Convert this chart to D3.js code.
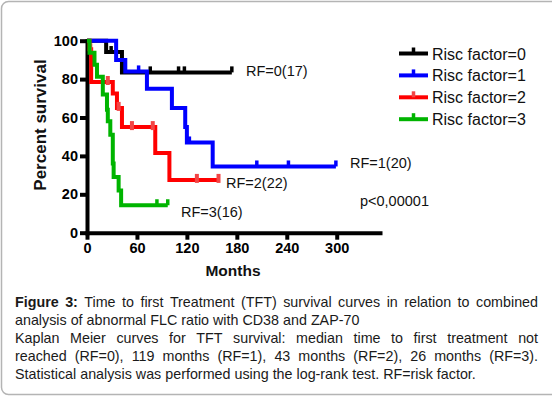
<!DOCTYPE html>
<html>
<head>
<meta charset="utf-8">
<script src="https://cdn.jsdelivr.net/npm/d3@7"></script>
<style>
  body { margin: 0; background: #fff; }
  svg { display: block; font-family: Arial, "Liberation Sans", sans-serif; }
</style>
</head>
<body>
<svg id="chart" width="552" height="398"></svg>
<script>
// values
const xTicks = [0, 60, 120, 180, 240, 300];
const yTicks = [0, 20, 40, 60, 80, 100];
const legendNames = ["Risc factor=0", "Risc factor=1", "Risc factor=2", "Risc factor=3"];
const groupLabels = ["RF=0(17)", "RF=1(20)", "RF=2(22)", "RF=3(16)"];

// months where the curve steps, and survival (%) after that step
const rf0Months = [0, 23, 42, 174];
const rf0Surv = [100, 94.1, 83.5, 83.5];
const rf0Censor = [29, 76, 110, 117, 174];

const rf1Months = [0, 35, 46, 72, 102, 118, 120, 151, 299];
const rf1Surv = [100, 90, 84, 75, 65, 55, 47, 34.5, 34.5];
const rf1Censor = [62, 123, 204, 242, 299];

const rf2Months = [0, 3, 5, 31, 36, 42, 82, 99, 158];
const rf2Surv = [100, 95.5, 78.5, 72.5, 65, 55, 41.5, 27.5, 27.5];
const rf2Censor = [4, 25, 38, 54, 79, 132, 158];

const rf3Months = [0, 3, 9, 12, 19, 24, 25, 28, 31, 32, 38, 41, 97];
const rf3Surv = [100, 93.75, 87.5, 81.25, 72, 64, 58, 51, 36, 29, 22, 14.3, 14.3];
const rf3Censor = [84, 97];

const pValue = "p<0,00001";

const caption = [
  [["Figure 3:", true], ["Time to first Treatment (TFT) survival curves in relation to combined", false], true],
  [["analysis of abnormal FLC ratio with CD38 and ZAP-70", false], false],
  [["Kaplan Meier curves for TFT survival: median time to first treatment not", false], true],
  [["reached (RF=0), 119 months (RF=1), 43 months (RF=2), 26 months (RF=3).", false], true],
  [["Statistical analysis was performed using the log-rank test. RF=risk factor.", false], false]
];

const svg = d3.select("#chart");

// frame round the figure
svg.append("rect")
  .attr("x", 1.5).attr("y", 1.5)
  .attr("width", 570).attr("height", 393)
  .attr("rx", 7)
  .attr("fill", "none")
  .attr("stroke", "#b4b4b4")
  .attr("stroke-width", 1.5);

const x = d3.scaleLinear().domain([0, 352]).range([87, 380]);
const y = d3.scaleLinear().domain([0, 100]).range([232.7, 40.7]);

const series = [
  { months: rf0Months, surv: rf0Surv, censor: rf0Censor, color: "#000000", tick: "#000000" },
  { months: rf1Months, surv: rf1Surv, censor: rf1Censor, color: "#0000ff", tick: "#0000ff" },
  { months: rf2Months, surv: rf2Surv, censor: rf2Censor, color: "#ff0000", tick: "#f24545" },
  { months: rf3Months, surv: rf3Surv, censor: rf3Censor, color: "#00b400", tick: "#00b400" }
];

const line = d3.line()
  .x(d => x(d[0]))
  .y(d => y(d[1]))
  .curve(d3.curveStepAfter);

function survAt(s, t) {
  let i = d3.bisectRight(s.months, t) - 1;
  return s.surv[Math.max(0, i)];
}

// axes
const yAxis = svg.append("g")
  .attr("transform", "translate(87,0)")
  .call(d3.axisLeft(y).tickValues(yTicks).tickSize(7).tickSizeOuter(0).tickPadding(2));
const xAxis = svg.append("g")
  .attr("transform", "translate(0,232.7)")
  .call(d3.axisBottom(x).tickValues(xTicks).tickSize(7).tickSizeOuter(0).tickPadding(3));

[xAxis, yAxis].forEach(g => {
  g.select(".domain").attr("stroke", "#000").attr("stroke-width", 4).attr("stroke-linecap", "square");
  g.selectAll(".tick line").attr("stroke", "#000").attr("stroke-width", 4);
  g.selectAll(".tick text")
    .attr("fill", "#000")
    .style("font-family", "Arial, 'Liberation Sans', sans-serif")
    .style("font-size", "14.5px")
    .style("font-weight", "bold");
});

// curves: black, blue, red, green on top
const drawOrder = [0, 1, 2, 3];
drawOrder.forEach(k => {
  const s = series[k];
  const pts = s.months.map((m, i) => [m, s.surv[i]]);
  svg.append("path")
    .attr("d", line(pts))
    .attr("fill", "none")
    .attr("stroke", s.color)
    .attr("stroke-width", 4)
    .attr("stroke-linejoin", "miter");

  svg.append("g").selectAll("line")
    .data(s.censor)
    .join("line")
    .attr("x1", d => x(d)).attr("x2", d => x(d))
    .attr("y1", d => y(survAt(s, d)) + (k === 2 ? 3 : 0))
    .attr("y2", d => y(survAt(s, d)) - 6)
    .attr("stroke", s.tick)
    .attr("stroke-width", k === 2 ? 4 : 3.5);
});

// group labels next to the curves
const labelPos = [[246, 76], [350, 168], [226, 188], [181, 217]];
groupLabels.forEach((t, i) => {
  svg.append("text")
    .attr("x", labelPos[i][0]).attr("y", labelPos[i][1])
    .attr("fill", "#111")
    .style("font-size", "14.5px")
    .text(t);
});

svg.append("text")
  .attr("x", 360).attr("y", 206)
  .attr("fill", "#111")
  .style("font-size", "14.5px")
  .text(pValue);

// legend
const legend = svg.append("g").attr("transform", "translate(399,53.5)");
legendNames.forEach((name, i) => {
  const g = legend.append("g").attr("transform", `translate(0,${i * 21.9})`);
  g.append("line").attr("x1", 0).attr("x2", 29).attr("y1", 0).attr("y2", 0)
    .attr("stroke", series[i].color).attr("stroke-width", 4);
  g.append("line").attr("x1", 14.5).attr("x2", 14.5).attr("y1", 0).attr("y2", -6)
    .attr("stroke", series[i].tick).attr("stroke-width", 3.5);
  g.append("text").attr("x", 33).attr("y", 6)
    .attr("fill", "#111")
    .style("font-size", "16px")
    .text(name);
});

// axis titles
svg.append("text")
  .attr("transform", "translate(46,125) rotate(-90)")
  .attr("text-anchor", "middle")
  .attr("fill", "#111")
  .style("font-size", "17px")
  .style("font-weight", "bold")
  .text("Percent survival");

svg.append("text")
  .attr("x", 233).attr("y", 276)
  .attr("text-anchor", "middle")
  .attr("fill", "#111")
  .style("font-size", "15.5px")
  .style("font-weight", "bold")
  .text("Months");

// caption, justified like the source
const capLeft = 15, capRight = 538, capTop = 307, capStep = 18.1;
caption.forEach((row, li) => {
  const justify = row[row.length - 1];
  const parts = row.slice(0, row.length - 1);
  const words = [];
  parts.forEach(p => p[0].split(" ").forEach(w => words.push({ w: w, bold: p[1] })));
  const yy = capTop + li * capStep;
  const nodes = words.map(d => svg.append("text")
    .attr("y", yy)
    .attr("fill", "#1a1a1a")
    .style("font-size", "14.3px")
    .style("font-weight", d.bold ? "bold" : "normal")
    .text(d.w));
  const widths = nodes.map(n => n.node().getComputedTextLength());
  const total = d3.sum(widths);
  const space = justify ? (capRight - capLeft - total) / (words.length - 1) : 4.0;
  let cx = capLeft;
  nodes.forEach((n, i) => {
    n.attr("x", cx);
    cx += widths[i] + space;
  });
});
</script>
</body>
</html>
